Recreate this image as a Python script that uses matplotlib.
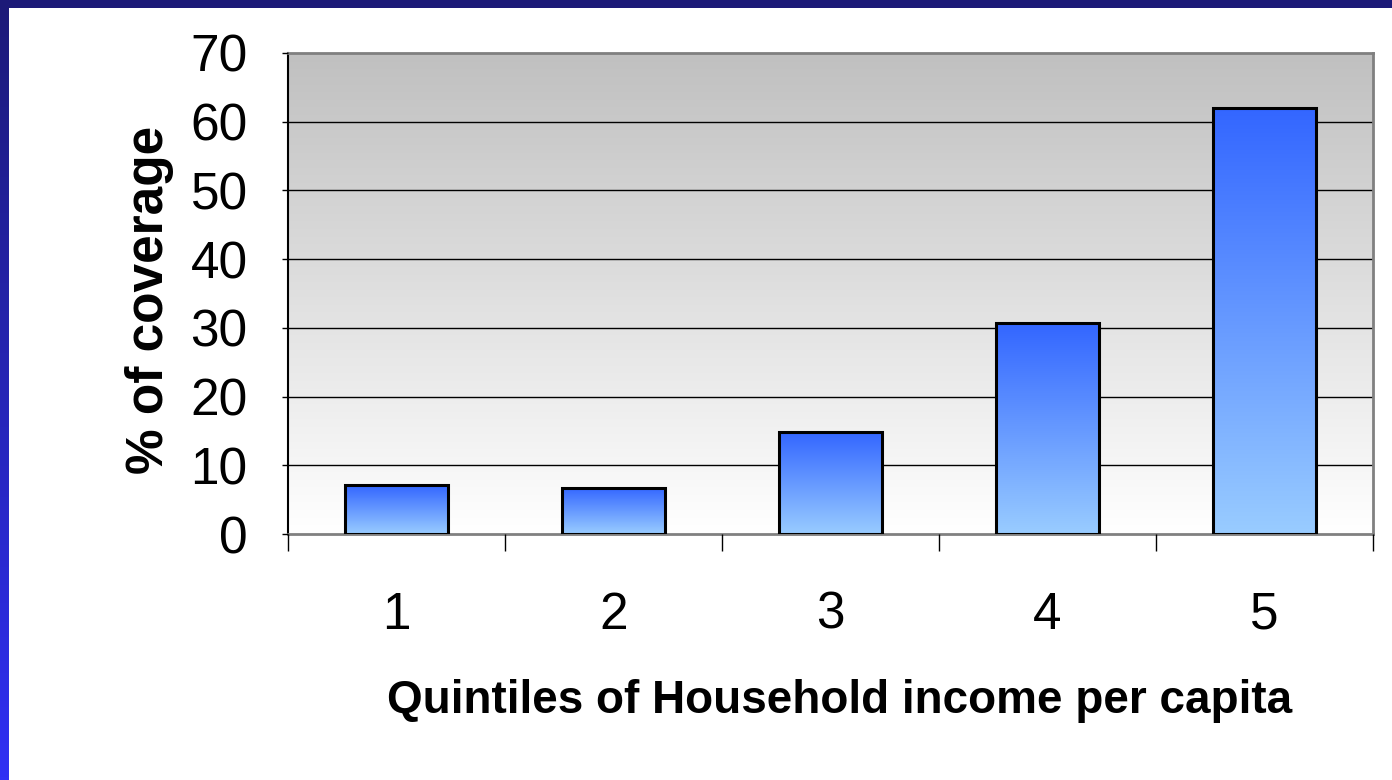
import numpy as np
import matplotlib
matplotlib.use("Agg")
import matplotlib.pyplot as plt
from matplotlib.colors import LinearSegmentedColormap

categories = ["1", "2", "3", "4", "5"]
coverage = [7.1, 6.7, 14.8, 30.7, 62.0]
yticks = [0, 10, 20, 30, 40, 50, 60, 70]
xlabel = "Quintiles of Household income per capita"
ylabel = "% of coverage"

W, H = 1392, 780
fig = plt.figure(figsize=(W / 100, H / 100), dpi=100)
fig.patch.set_facecolor("white")

# blue slide frame
lax = fig.add_axes([0, 0, 9 / W, 1])
frame_cmap = LinearSegmentedColormap.from_list("frame", ["#1c1a78", "#3030f4"])
lax.imshow(np.linspace(0, 1, 256).reshape(-1, 1), cmap=frame_cmap, aspect="auto",
           extent=[0, 1, 0, 1])
lax.axis("off")
tax = fig.add_axes([0, 1 - 8 / H, 1, 8 / H])
tax.set_facecolor("#1c1a78")
tax.set_xticks([]); tax.set_yticks([])
for s in tax.spines.values():
    s.set_visible(False)

left, right, top, bottom = 288, 1373, 53, 534
ax = fig.add_axes([left / W, 1 - bottom / H, (right - left) / W, (bottom - top) / H])
ax.set_facecolor("white")

# plot area gradient
bg_cmap = LinearSegmentedColormap.from_list("bg", ["#ffffff", "#c0c0c0"])
ax.imshow(np.linspace(0, 1, 256).reshape(-1, 1), cmap=bg_cmap, aspect="auto",
          extent=[0, 1, 0, 1], transform=ax.transAxes, origin="lower", zorder=0)

x = np.arange(len(categories))
bars = ax.bar(x, coverage, width=0.475, facecolor="none", edgecolor="black",
              linewidth=2.2, zorder=3)
bar_cmap = LinearSegmentedColormap.from_list("bar", ["#99ccff", "#3366ff"])
for b in bars:
    x0, y0 = b.get_x(), b.get_y()
    im = ax.imshow(np.linspace(0, 1, 256).reshape(-1, 1), cmap=bar_cmap, aspect="auto",
                   extent=[x0, x0 + b.get_width(), y0, y0 + b.get_height()],
                   origin="lower", zorder=2)
    im.set_clip_path(b)

ax.set_xlim(-0.5, len(categories) - 0.5)
ax.set_ylim(0, 70)
ax.set_yticks(yticks)
ax.set_yticklabels([str(v) for v in yticks])
for v in yticks[1:-1]:
    ax.axhline(v, color="black", linewidth=1.0, zorder=1)

ax.set_xticks(np.arange(-0.5, len(categories), 1.0))
ax.set_xticklabels([])
ax.set_xticks(x, minor=True)
ax.set_xticklabels(categories, minor=True)
ax.tick_params(axis="x", which="major", direction="out", length=12, width=1, color="black")
ax.tick_params(axis="x", which="minor", length=0, pad=41, labelsize=37)
ax.tick_params(axis="y", direction="out", length=4, width=1, color="black", pad=25,
               labelsize=37)
for lab in ax.get_xticklabels(minor=True) + ax.get_yticklabels():
    lab.set_fontfamily("Liberation Sans")

ax.spines["left"].set_color("black")
ax.spines["left"].set_linewidth(1.5)
for s in ["top", "right", "bottom"]:
    ax.spines[s].set_color("#808080")
    ax.spines[s].set_linewidth(2)
ax.set_axisbelow(False)

fig.text(840 / W, 1 - 713 / H, xlabel, ha="center", va="baseline",
         fontsize=33, fontweight="bold", family="Liberation Sans")
fig.text(150 / W, 1 - 300 / H, ylabel, ha="center", va="center", rotation=90,
         fontsize=37, fontweight="bold", family="Liberation Sans")

fig.savefig("out.png", dpi=100)
